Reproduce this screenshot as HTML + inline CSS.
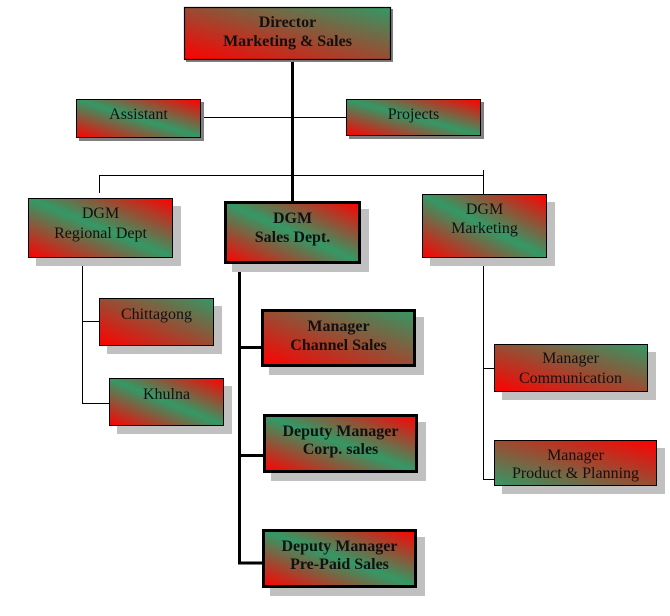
<!DOCTYPE html>
<html><head><meta charset="utf-8"><style>
html,body{margin:0;padding:0;background:#fff;}
svg{display:block;}
svg text{font-family:"Liberation Serif","Times New Roman",Times,serif;font-size:16px;fill:#111;text-anchor:middle;}
svg text.b{font-weight:bold;}
</style></head><body>
<svg width="670" height="616" viewBox="0 0 670 616" xmlns="http://www.w3.org/2000/svg">
<defs>
<linearGradient id="gA" x1="0" y1="1" x2="1" y2="0"><stop offset="0" stop-color="#ff0000"/><stop offset="1" stop-color="#339966"/></linearGradient>
<linearGradient id="gR" x1="0" y1="1" x2="1" y2="0"><stop offset="0" stop-color="#ff0000"/><stop offset="0.5" stop-color="#339966"/><stop offset="1" stop-color="#ff0000"/></linearGradient>
<linearGradient id="gG" x1="0" y1="1" x2="1" y2="0"><stop offset="0" stop-color="#339966"/><stop offset="1" stop-color="#ff0000"/></linearGradient>
</defs>

<!-- connectors -->
<g stroke="#000" fill="none">
<line x1="292.5" y1="60" x2="292.5" y2="202" stroke-width="3"/>
<line x1="201" y1="117.5" x2="346" y2="117.5" stroke-width="1"/>
<line x1="99" y1="175.5" x2="483" y2="175.5" stroke-width="1"/>
<line x1="99.5" y1="175" x2="99.5" y2="193" stroke-width="1"/>
<line x1="483.5" y1="170" x2="483.5" y2="194" stroke-width="1"/>
<line x1="82.5" y1="258" x2="82.5" y2="403.5" stroke-width="1"/>
<line x1="82" y1="321.5" x2="99" y2="321.5" stroke-width="1"/>
<line x1="82" y1="403.5" x2="109" y2="403.5" stroke-width="1"/>
<line x1="239.5" y1="264" x2="239.5" y2="564" stroke-width="3"/>
<line x1="238" y1="347.5" x2="262" y2="347.5" stroke-width="3"/>
<line x1="238" y1="455.5" x2="264" y2="455.5" stroke-width="3"/>
<line x1="238" y1="563" x2="263" y2="563" stroke-width="3"/>
<line x1="483.5" y1="258" x2="483.5" y2="479.5" stroke-width="1"/>
<line x1="483" y1="368.5" x2="494" y2="368.5" stroke-width="1"/>
<line x1="483" y1="479.5" x2="494" y2="479.5" stroke-width="1"/>
</g>

<!-- shadows -->
<g fill="#c0c0c0">
<rect x="36" y="206" width="145" height="60"/>
<rect x="232" y="209" width="137" height="63"/>
<rect x="430" y="202" width="125" height="64"/>
<rect x="107" y="306" width="115" height="48"/>
<rect x="117" y="386" width="115" height="48"/>
<rect x="269" y="317" width="155" height="58"/>
<rect x="271" y="422" width="155" height="59"/>
<rect x="270" y="537" width="155" height="59"/>
<rect x="502" y="352" width="154" height="48"/>
<rect x="502" y="448" width="163" height="46"/>
</g>
<g fill="#808080">
<rect x="79" y="102" width="125" height="39"/>
<rect x="349" y="102" width="135" height="37"/>
<rect x="186" y="9" width="207" height="53"/>
</g>

<!-- boxes -->
<g stroke="#000">
<rect x="184.5" y="7.5" width="206" height="52" fill="url(#gA)" stroke-width="1.2"/>
<rect x="76.5" y="99.5" width="124" height="38" fill="url(#gR)" stroke-width="1"/>
<rect x="346.5" y="99.5" width="134" height="36" fill="url(#gR)" stroke-width="1"/>
<rect x="28.5" y="198.5" width="144" height="59" fill="url(#gR)" stroke-width="1"/>
<rect x="225.5" y="202.5" width="134" height="60" fill="url(#gR)" stroke-width="3"/>
<rect x="422.5" y="194.5" width="124" height="63" fill="url(#gR)" stroke-width="1"/>
<rect x="99.5" y="298.5" width="114" height="47" fill="url(#gA)" stroke-width="1"/>
<rect x="109.5" y="378.5" width="114" height="47" fill="url(#gR)" stroke-width="1"/>
<rect x="262.5" y="310.5" width="152" height="55" fill="url(#gA)" stroke-width="3"/>
<rect x="264.5" y="415.5" width="152" height="56" fill="url(#gR)" stroke-width="3"/>
<rect x="263.5" y="530.5" width="152" height="56" fill="url(#gR)" stroke-width="3"/>
<rect x="494.5" y="344.5" width="153" height="47" fill="url(#gA)" stroke-width="1"/>
<rect x="494.5" y="440.5" width="162" height="45" fill="url(#gG)" stroke-width="1"/>
</g>

<!-- labels -->
<g font-family="'Liberation Serif', 'Times New Roman', serif" font-size="16" fill="#111" text-anchor="middle" style="font-family:'Liberation Serif','Times New Roman',serif">
<text class="b" font-weight="bold" x="287.5" y="27">Director</text>
<text class="b" font-weight="bold" x="287.5" y="46">Marketing &amp; Sales</text>
<text x="138.5" y="119">Assistant</text>
<text x="413.5" y="119">Projects</text>
<text x="100.5" y="218">DGM</text>
<text x="100.5" y="238">Regional Dept</text>
<text class="b" font-weight="bold" x="292.5" y="223">DGM</text>
<text class="b" font-weight="bold" x="292.5" y="242">Sales Dept.</text>
<text x="484.5" y="214">DGM</text>
<text x="484.5" y="233">Marketing</text>
<text x="156.5" y="319">Chittagong</text>
<text x="166.5" y="399">Khulna</text>
<text class="b" font-weight="bold" x="338.5" y="331">Manager</text>
<text class="b" font-weight="bold" x="338.5" y="350">Channel Sales</text>
<text class="b" font-weight="bold" x="340.5" y="436">Deputy Manager</text>
<text class="b" font-weight="bold" x="340.5" y="454">Corp. sales</text>
<text class="b" font-weight="bold" x="339.5" y="551">Deputy Manager</text>
<text class="b" font-weight="bold" x="339.5" y="569">Pre-Paid Sales</text>
<text x="570.5" y="363">Manager</text>
<text x="570.5" y="383">Communication</text>
<text x="575.5" y="460">Manager</text>
<text x="575.5" y="478">Product &amp; Planning</text>
</g>
</svg>
</body></html>
